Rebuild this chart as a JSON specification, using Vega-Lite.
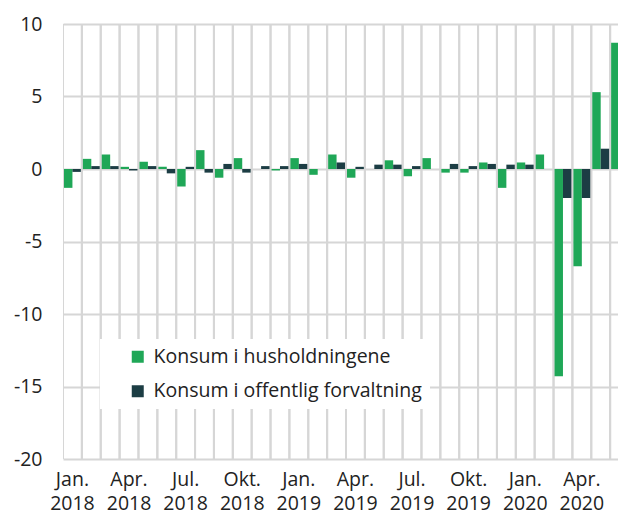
{
  "$schema": "https://vega.github.io/schema/vega-lite/v6.json",
  "width": 555,
  "height": 435,
  "autosize": {"type": "none"},
  "padding": {"left": 63, "top": 24, "right": 0, "bottom": 56},
  "background": "white",
  "config": {
    "view": {"stroke": null},
    "axis": {"domain": false, "ticks": false, "labelFont": "Open Sans", "labelFontSize": 19.5, "labelColor": "#222222", "titleFontSize": 0},
    "legend": {"labelFont": "Open Sans", "labelFontSize": 19.5, "labelColor": "#222222", "labelLimit": 500}
  },
  "data": {
    "values": [
      {"m": "2018-01", "s": "Konsum i husholdningene", "v": -1.3}, {"m": "2018-01", "s": "Konsum i offentlig forvaltning", "v": -0.2},
      {"m": "2018-02", "s": "Konsum i husholdningene", "v": 0.7}, {"m": "2018-02", "s": "Konsum i offentlig forvaltning", "v": 0.2},
      {"m": "2018-03", "s": "Konsum i husholdningene", "v": 1.0}, {"m": "2018-03", "s": "Konsum i offentlig forvaltning", "v": 0.2},
      {"m": "2018-04", "s": "Konsum i husholdningene", "v": 0.15}, {"m": "2018-04", "s": "Konsum i offentlig forvaltning", "v": -0.1},
      {"m": "2018-05", "s": "Konsum i husholdningene", "v": 0.5}, {"m": "2018-05", "s": "Konsum i offentlig forvaltning", "v": 0.2},
      {"m": "2018-06", "s": "Konsum i husholdningene", "v": 0.15}, {"m": "2018-06", "s": "Konsum i offentlig forvaltning", "v": -0.3},
      {"m": "2018-07", "s": "Konsum i husholdningene", "v": -1.2}, {"m": "2018-07", "s": "Konsum i offentlig forvaltning", "v": 0.15},
      {"m": "2018-08", "s": "Konsum i husholdningene", "v": 1.3}, {"m": "2018-08", "s": "Konsum i offentlig forvaltning", "v": -0.25},
      {"m": "2018-09", "s": "Konsum i husholdningene", "v": -0.6}, {"m": "2018-09", "s": "Konsum i offentlig forvaltning", "v": 0.35},
      {"m": "2018-10", "s": "Konsum i husholdningene", "v": 0.75}, {"m": "2018-10", "s": "Konsum i offentlig forvaltning", "v": -0.25},
      {"m": "2018-11", "s": "Konsum i husholdningene", "v": 0.0}, {"m": "2018-11", "s": "Konsum i offentlig forvaltning", "v": 0.2},
      {"m": "2018-12", "s": "Konsum i husholdningene", "v": -0.1}, {"m": "2018-12", "s": "Konsum i offentlig forvaltning", "v": 0.2},
      {"m": "2019-01", "s": "Konsum i husholdningene", "v": 0.75}, {"m": "2019-01", "s": "Konsum i offentlig forvaltning", "v": 0.35},
      {"m": "2019-02", "s": "Konsum i husholdningene", "v": -0.4}, {"m": "2019-02", "s": "Konsum i offentlig forvaltning", "v": 0.0},
      {"m": "2019-03", "s": "Konsum i husholdningene", "v": 1.0}, {"m": "2019-03", "s": "Konsum i offentlig forvaltning", "v": 0.45},
      {"m": "2019-04", "s": "Konsum i husholdningene", "v": -0.6}, {"m": "2019-04", "s": "Konsum i offentlig forvaltning", "v": 0.15},
      {"m": "2019-05", "s": "Konsum i husholdningene", "v": 0.0}, {"m": "2019-05", "s": "Konsum i offentlig forvaltning", "v": 0.3},
      {"m": "2019-06", "s": "Konsum i husholdningene", "v": 0.6}, {"m": "2019-06", "s": "Konsum i offentlig forvaltning", "v": 0.3},
      {"m": "2019-07", "s": "Konsum i husholdningene", "v": -0.5}, {"m": "2019-07", "s": "Konsum i offentlig forvaltning", "v": 0.2},
      {"m": "2019-08", "s": "Konsum i husholdningene", "v": 0.75}, {"m": "2019-08", "s": "Konsum i offentlig forvaltning", "v": 0.0},
      {"m": "2019-09", "s": "Konsum i husholdningene", "v": -0.25}, {"m": "2019-09", "s": "Konsum i offentlig forvaltning", "v": 0.35},
      {"m": "2019-10", "s": "Konsum i husholdningene", "v": -0.25}, {"m": "2019-10", "s": "Konsum i offentlig forvaltning", "v": 0.2},
      {"m": "2019-11", "s": "Konsum i husholdningene", "v": 0.45}, {"m": "2019-11", "s": "Konsum i offentlig forvaltning", "v": 0.35},
      {"m": "2019-12", "s": "Konsum i husholdningene", "v": -1.3}, {"m": "2019-12", "s": "Konsum i offentlig forvaltning", "v": 0.3},
      {"m": "2020-01", "s": "Konsum i husholdningene", "v": 0.45}, {"m": "2020-01", "s": "Konsum i offentlig forvaltning", "v": 0.3},
      {"m": "2020-02", "s": "Konsum i husholdningene", "v": 1.0}, {"m": "2020-02", "s": "Konsum i offentlig forvaltning", "v": 0.0},
      {"m": "2020-03", "s": "Konsum i husholdningene", "v": -14.3}, {"m": "2020-03", "s": "Konsum i offentlig forvaltning", "v": -2.0},
      {"m": "2020-04", "s": "Konsum i husholdningene", "v": -6.7}, {"m": "2020-04", "s": "Konsum i offentlig forvaltning", "v": -2.0},
      {"m": "2020-05", "s": "Konsum i husholdningene", "v": 5.3}, {"m": "2020-05", "s": "Konsum i offentlig forvaltning", "v": 1.4},
      {"m": "2020-06", "s": "Konsum i husholdningene", "v": 8.7}, {"m": "2020-06", "s": "Konsum i offentlig forvaltning", "v": 1.0}
    ]
  },
  "layer": [
    {
      "mark": {"type": "rule", "color": "#d6d6d6", "strokeWidth": 2, "clip": true},
      "encoding": {
        "x": {"field": "m", "type": "ordinal", "bandPosition": 0,
          "scale": {"type": "band", "paddingInner": 0, "paddingOuter": 0, "range": [0, 566]}}
      }
    },
    {
      "mark": {"type": "bar", "clip": true},
      "encoding": {
        "x": {"field": "m", "type": "ordinal", "title": null,
          "scale": {"type": "band", "paddingInner": 0, "paddingOuter": 0, "range": [0, 566]},
          "axis": {"grid": false, "labelAngle": 0, "labelAlign": "center", "labelPadding": 11, "labelLineHeight": 24, "labelBaseline": "top", "labelOverlap": false,
            "labelExpr": "slice(datum.value,5)=='01' ? ['Jan.', slice(datum.value,0,4)] : slice(datum.value,5)=='04' ? ['Apr.', slice(datum.value,0,4)] : slice(datum.value,5)=='07' ? ['Jul.', slice(datum.value,0,4)] : slice(datum.value,5)=='10' ? ['Okt.', slice(datum.value,0,4)] : ''"}},
        "xOffset": {"field": "s", "type": "nominal", "sort": ["Konsum i husholdningene", "Konsum i offentlig forvaltning"],
          "scale": {"paddingInner": 0, "paddingOuter": 0.12}},
        "y": {"field": "v", "type": "quantitative", "title": null,
          "scale": {"domain": [-20, 10], "nice": false, "zero": false},
          "axis": {"grid": true, "gridColor": "#d6d6d6", "gridWidth": 2, "values": [-20, -15, -10, -5, 0, 5, 10], "labelPadding": 21,
            "labelExpr": "datum.value < 0 ? '-' + abs(datum.value) : '' + datum.value"}},
        "color": {"field": "s", "type": "nominal", "sort": ["Konsum i husholdningene", "Konsum i offentlig forvaltning"],
          "scale": {"domain": ["Konsum i husholdningene", "Konsum i offentlig forvaltning"], "range": ["#1fa757", "#1c3d44"]},
          "legend": {"title": null, "orient": "none", "legendX": 37, "legendY": 315, "fillColor": "white", "padding": 8,
            "symbolOffset": 20, "symbolType": "square", "symbolSize": 144, "symbolStrokeWidth": 0, "rowPadding": 13.5, "labelOffset": 6, "labelLimit": 500}}
      }
    }
  ]
}
